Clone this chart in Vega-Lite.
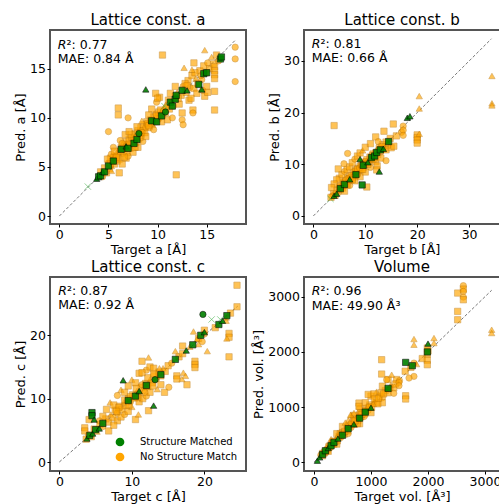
{
"$schema": "https://vega.github.io/schema/vega-lite/v6.json",
"background": "white",
"padding": {"left": 13, "top": 12, "right": 0, "bottom": 0},
"config": {
  "font": "DejaVu Sans",
  "view": {"stroke": "#555555", "strokeWidth": 2},
  "axis": {"domain": false, "grid": false, "ticks": true, "tickSize": 3, "tickColor": "#000000", "tickWidth": 1, "labelFontSize": 12.5, "labelColor": "#000000", "labelPadding": 1.5, "labelFlush": false, "labelOverlap": false, "titleFontSize": 13, "titleFontWeight": "normal", "titleColor": "#000000", "titlePadding": 2.5},
  "title": {"fontSize": 15, "fontWeight": "normal", "offset": 2, "color": "#000000"}
},
"datasets": {
"a": [
{"target":4.2,"pred":4.5,"match":"no","kind":"sq"},{"target":4.4,"pred":4.0,"match":"no","kind":"ci"},{"target":4.6,"pred":4.9,"match":"no","kind":"sq"},{"target":4.8,"pred":4.4,"match":"no","kind":"sq"},{"target":5.0,"pred":5.4,"match":"no","kind":"ci"},{"target":5.1,"pred":4.8,"match":"no","kind":"sq"},{"target":5.2,"pred":5.9,"match":"no","kind":"sq"},{"target":5.3,"pred":5.1,"match":"no","kind":"tr"},{"target":5.4,"pred":5.6,"match":"no","kind":"sq"},{"target":5.5,"pred":6.1,"match":"no","kind":"ci"},{"target":5.6,"pred":5.3,"match":"no","kind":"sq"},{"target":5.7,"pred":5.9,"match":"no","kind":"sq"},{"target":5.8,"pred":6.4,"match":"no","kind":"tr"},{"target":5.9,"pred":5.6,"match":"no","kind":"sq"},{"target":6.0,"pred":6.2,"match":"no","kind":"ci"},{"target":6.1,"pred":5.8,"match":"no","kind":"sq"},{"target":6.2,"pred":6.6,"match":"no","kind":"sq"},{"target":4.9,"pred":5.8,"match":"no","kind":"sq"},{"target":5.3,"pred":6.3,"match":"no","kind":"ci"},{"target":6.4,"pred":5.3,"match":"no","kind":"sq"},{"target":6.3,"pred":7.0,"match":"no","kind":"sq"},{"target":6.5,"pred":6.4,"match":"no","kind":"ci"},{"target":6.6,"pred":7.3,"match":"no","kind":"sq"},{"target":6.7,"pred":6.8,"match":"no","kind":"tr"},{"target":6.8,"pred":7.6,"match":"no","kind":"sq"},{"target":6.9,"pred":6.5,"match":"no","kind":"sq"},{"target":7.0,"pred":7.2,"match":"no","kind":"ci"},{"target":7.1,"pred":7.8,"match":"no","kind":"sq"},{"target":7.2,"pred":6.9,"match":"no","kind":"sq"},{"target":7.3,"pred":7.5,"match":"no","kind":"tr"},{"target":7.4,"pred":8.0,"match":"no","kind":"sq"},{"target":7.5,"pred":7.2,"match":"no","kind":"ci"},{"target":7.6,"pred":7.9,"match":"no","kind":"sq"},{"target":7.7,"pred":8.4,"match":"no","kind":"sq"},{"target":7.8,"pred":7.5,"match":"no","kind":"sq"},{"target":7.9,"pred":8.1,"match":"no","kind":"ci"},{"target":8.0,"pred":8.7,"match":"no","kind":"sq"},{"target":8.1,"pred":7.8,"match":"no","kind":"tr"},{"target":8.2,"pred":8.4,"match":"no","kind":"sq"},{"target":8.3,"pred":9.0,"match":"no","kind":"sq"},{"target":8.4,"pred":8.2,"match":"no","kind":"ci"},{"target":8.5,"pred":8.7,"match":"no","kind":"sq"},{"target":8.6,"pred":9.3,"match":"no","kind":"sq"},{"target":8.7,"pred":8.5,"match":"no","kind":"sq"},{"target":8.8,"pred":9.0,"match":"no","kind":"ci"},{"target":8.9,"pred":9.6,"match":"no","kind":"sq"},{"target":6.2,"pred":7.7,"match":"no","kind":"ci"},{"target":6.7,"pred":8.3,"match":"no","kind":"sq"},{"target":7.0,"pred":10.0,"match":"no","kind":"ci"},{"target":7.5,"pred":6.5,"match":"no","kind":"sq"},{"target":8.0,"pred":7.0,"match":"no","kind":"sq"},{"target":8.5,"pred":7.6,"match":"no","kind":"ci"},{"target":6.8,"pred":5.9,"match":"no","kind":"sq"},{"target":7.0,"pred":6.1,"match":"no","kind":"ci"},{"target":5.5,"pred":7.0,"match":"no","kind":"ci"},{"target":6.1,"pred":6.9,"match":"no","kind":"tr"},{"target":9.0,"pred":9.4,"match":"no","kind":"sq"},{"target":9.2,"pred":9.0,"match":"no","kind":"ci"},{"target":9.3,"pred":9.8,"match":"no","kind":"sq"},{"target":9.5,"pred":9.3,"match":"no","kind":"tr"},{"target":9.6,"pred":10.1,"match":"no","kind":"sq"},{"target":9.7,"pred":9.6,"match":"no","kind":"sq"},{"target":9.8,"pred":10.4,"match":"no","kind":"ci"},{"target":10.0,"pred":9.9,"match":"no","kind":"sq"},{"target":10.1,"pred":10.6,"match":"no","kind":"sq"},{"target":10.2,"pred":10.0,"match":"no","kind":"ci"},{"target":10.3,"pred":10.8,"match":"no","kind":"sq"},{"target":10.5,"pred":10.3,"match":"no","kind":"sq"},{"target":10.6,"pred":11.0,"match":"no","kind":"tr"},{"target":10.8,"pred":10.5,"match":"no","kind":"sq"},{"target":11.0,"pred":11.3,"match":"no","kind":"ci"},{"target":11.2,"pred":10.9,"match":"no","kind":"sq"},{"target":11.4,"pred":11.6,"match":"no","kind":"sq"},{"target":11.6,"pred":11.2,"match":"no","kind":"ci"},{"target":11.8,"pred":12.2,"match":"no","kind":"sq"},{"target":9.4,"pred":10.9,"match":"no","kind":"sq"},{"target":9.9,"pred":11.6,"match":"no","kind":"ci"},{"target":10.2,"pred":12.1,"match":"no","kind":"sq"},{"target":11.0,"pred":9.8,"match":"no","kind":"sq"},{"target":11.5,"pred":10.0,"match":"no","kind":"ci"},{"target":12.2,"pred":11.4,"match":"no","kind":"sq"},{"target":12.0,"pred":12.6,"match":"no","kind":"tr"},{"target":12.4,"pred":12.3,"match":"no","kind":"sq"},{"target":12.6,"pred":13.2,"match":"no","kind":"ci"},{"target":12.9,"pred":12.6,"match":"no","kind":"sq"},{"target":13.1,"pred":13.8,"match":"no","kind":"sq"},{"target":13.3,"pred":13.1,"match":"no","kind":"ci"},{"target":13.5,"pred":14.3,"match":"no","kind":"sq"},{"target":13.7,"pred":13.0,"match":"no","kind":"sq"},{"target":13.9,"pred":14.0,"match":"no","kind":"tr"},{"target":14.1,"pred":13.5,"match":"no","kind":"sq"},{"target":14.3,"pred":14.8,"match":"no","kind":"sq"},{"target":14.5,"pred":13.9,"match":"no","kind":"ci"},{"target":14.7,"pred":15.3,"match":"no","kind":"sq"},{"target":14.9,"pred":14.6,"match":"no","kind":"sq"},{"target":15.1,"pred":15.6,"match":"no","kind":"ci"},{"target":15.3,"pred":15.0,"match":"no","kind":"sq"},{"target":15.5,"pred":16.2,"match":"no","kind":"tr"},{"target":15.7,"pred":15.5,"match":"no","kind":"sq"},{"target":16.0,"pred":16.4,"match":"no","kind":"sq"},{"target":16.2,"pred":15.8,"match":"no","kind":"ci"},{"target":14.0,"pred":12.5,"match":"no","kind":"sq"},{"target":14.6,"pred":12.8,"match":"no","kind":"ci"},{"target":13.2,"pred":11.8,"match":"no","kind":"sq"},{"target":15.0,"pred":13.2,"match":"no","kind":"sq"},{"target":14.8,"pred":12.2,"match":"no","kind":"sq"},
{"target":5.6,"pred":6.6,"match":"no","kind":"sq"},{"target":6.4,"pred":7.4,"match":"no","kind":"ci"},{"target":7.3,"pred":8.3,"match":"no","kind":"sq"},{"target":7.9,"pred":9.1,"match":"no","kind":"sq"},{"target":8.4,"pred":9.7,"match":"no","kind":"tr"},{"target":9.1,"pred":10.3,"match":"no","kind":"sq"},{"target":8.8,"pred":8.1,"match":"no","kind":"sq"},{"target":9.6,"pred":8.8,"match":"no","kind":"ci"},{"target":10.4,"pred":9.6,"match":"no","kind":"sq"},{"target":6.6,"pred":6.0,"match":"no","kind":"sq"},{"target":7.7,"pred":7.0,"match":"no","kind":"sq"},{"target":5.2,"pred":5.3,"match":"no","kind":"sq"},{"target":6.9,"pred":7.1,"match":"no","kind":"sq"},{"target":8.2,"pred":8.0,"match":"no","kind":"sq"},{"target":9.4,"pred":9.5,"match":"no","kind":"sq"},{"target":10.6,"pred":10.7,"match":"no","kind":"ci"},{"target":11.1,"pred":11.8,"match":"no","kind":"sq"},{"target":12.8,"pred":13.5,"match":"no","kind":"sq"},{"target":13.8,"pred":14.6,"match":"no","kind":"sq"},
{"target":7.1,"pred":7.3,"match":"no","kind":"sq"},{"target":7.8,"pred":8.0,"match":"no","kind":"ci"},{"target":8.3,"pred":8.5,"match":"no","kind":"sq"},{"target":9.1,"pred":9.2,"match":"no","kind":"sq"},{"target":9.9,"pred":10.2,"match":"no","kind":"sq"},{"target":10.9,"pred":11.1,"match":"no","kind":"ci"},{"target":12.1,"pred":12.0,"match":"no","kind":"sq"},{"target":13.0,"pred":13.3,"match":"no","kind":"sq"},{"target":14.4,"pred":14.3,"match":"no","kind":"ci"},{"target":5.8,"pred":6.0,"match":"no","kind":"sq"},{"target":6.5,"pred":6.9,"match":"no","kind":"sq"},
{"target":11.9,"pred":4.2,"match":"no","kind":"sq"},{"target":10.5,"pred":16.4,"match":"no","kind":"sq"},{"target":13.7,"pred":15.6,"match":"no","kind":"sq"},{"target":17.9,"pred":17.2,"match":"no","kind":"ci"},{"target":17.9,"pred":16.0,"match":"no","kind":"ci"},{"target":17.9,"pred":13.7,"match":"no","kind":"ci"},{"target":15.8,"pred":15.2,"match":"no","kind":"sq"},{"target":15.8,"pred":14.8,"match":"no","kind":"sq"},{"target":15.8,"pred":14.4,"match":"no","kind":"sq"},{"target":15.8,"pred":14.0,"match":"no","kind":"sq"},{"target":15.8,"pred":12.7,"match":"no","kind":"sq"},{"target":15.8,"pred":10.8,"match":"no","kind":"sq"},{"target":13.6,"pred":10.8,"match":"no","kind":"sq"},{"target":13.6,"pred":10.5,"match":"no","kind":"ci"},{"target":12.5,"pred":10.5,"match":"no","kind":"sq"},{"target":12.5,"pred":9.8,"match":"no","kind":"ci"},{"target":12.6,"pred":9.3,"match":"no","kind":"ci"},{"target":6.0,"pred":11.0,"match":"no","kind":"sq"},{"target":6.0,"pred":10.3,"match":"no","kind":"sq"},{"target":5.0,"pred":8.6,"match":"no","kind":"ci"},{"target":7.1,"pred":8.6,"match":"no","kind":"sq"},{"target":9.8,"pred":12.5,"match":"no","kind":"sq"},{"target":6.1,"pred":4.4,"match":"no","kind":"sq"},{"target":5.3,"pred":4.6,"match":"no","kind":"tr"},{"target":14.8,"pred":16.9,"match":"no","kind":"tr"},{"target":13.5,"pred":14.9,"match":"no","kind":"tr"},{"target":12.7,"pred":15.1,"match":"no","kind":"tr"},{"target":11.3,"pred":12.5,"match":"no","kind":"sq"},{"target":11.8,"pred":13.2,"match":"no","kind":"sq"},{"target":10.0,"pred":12.0,"match":"no","kind":"sq"},{"target":13.4,"pred":12.0,"match":"no","kind":"sq"},{"target":15.1,"pred":12.6,"match":"no","kind":"sq"},
{"target":3.8,"pred":3.8,"match":"yes","kind":"tr"},{"target":4.0,"pred":4.0,"match":"yes","kind":"sq"},{"target":4.2,"pred":4.1,"match":"yes","kind":"sq"},{"target":4.4,"pred":4.5,"match":"yes","kind":"tr"},{"target":4.6,"pred":4.5,"match":"yes","kind":"sq"},{"target":5.0,"pred":5.1,"match":"yes","kind":"sq"},{"target":5.5,"pred":5.6,"match":"yes","kind":"sq"},{"target":6.3,"pred":6.8,"match":"yes","kind":"sq"},{"target":6.8,"pred":7.1,"match":"yes","kind":"tr"},{"target":7.0,"pred":6.9,"match":"yes","kind":"sq"},{"target":7.6,"pred":7.4,"match":"yes","kind":"sq"},{"target":7.9,"pred":7.8,"match":"yes","kind":"sq"},{"target":8.1,"pred":8.4,"match":"yes","kind":"ci"},{"target":8.8,"pred":12.9,"match":"yes","kind":"tr"},{"target":9.4,"pred":9.7,"match":"yes","kind":"sq"},{"target":9.9,"pred":9.6,"match":"yes","kind":"sq"},{"target":10.4,"pred":10.2,"match":"yes","kind":"sq"},{"target":10.8,"pred":10.6,"match":"yes","kind":"ci"},{"target":11.3,"pred":11.6,"match":"yes","kind":"sq"},{"target":11.5,"pred":11.2,"match":"yes","kind":"sq"},{"target":11.8,"pred":11.9,"match":"yes","kind":"sq"},{"target":11.9,"pred":12.3,"match":"yes","kind":"sq"},{"target":12.5,"pred":12.8,"match":"yes","kind":"sq"},{"target":13.0,"pred":12.8,"match":"yes","kind":"tr"},{"target":14.2,"pred":13.4,"match":"yes","kind":"sq"},{"target":14.5,"pred":12.9,"match":"yes","kind":"tr"},{"target":14.7,"pred":14.5,"match":"yes","kind":"sq"},{"target":15.0,"pred":14.6,"match":"yes","kind":"sq"},{"target":16.4,"pred":16.0,"match":"yes","kind":"sq"},{"target":16.5,"pred":16.2,"match":"yes","kind":"sq"},{"target":2.9,"pred":3.0,"match":"yes","kind":"x"},{"target":10.7,"pred":11.2,"match":"yes","kind":"x"}
],
"b": [
{"target":3.6,"pred":3.8,"match":"no","kind":"ci"},{"target":3.9,"pred":4.3,"match":"no","kind":"sq"},{"target":4.2,"pred":4.0,"match":"no","kind":"sq"},{"target":4.5,"pred":5.0,"match":"no","kind":"sq"},{"target":4.8,"pred":4.5,"match":"no","kind":"ci"},{"target":5.0,"pred":5.6,"match":"no","kind":"sq"},{"target":5.2,"pred":5.1,"match":"no","kind":"sq"},{"target":5.4,"pred":6.1,"match":"no","kind":"tr"},{"target":5.6,"pred":5.4,"match":"no","kind":"sq"},{"target":5.8,"pred":6.5,"match":"no","kind":"sq"},{"target":6.0,"pred":5.9,"match":"no","kind":"ci"},{"target":6.2,"pred":6.8,"match":"no","kind":"sq"},{"target":6.4,"pred":6.2,"match":"no","kind":"sq"},{"target":6.6,"pred":7.3,"match":"no","kind":"sq"},{"target":6.8,"pred":6.7,"match":"no","kind":"ci"},{"target":7.0,"pred":7.6,"match":"no","kind":"sq"},{"target":7.2,"pred":7.0,"match":"no","kind":"sq"},{"target":7.4,"pred":8.1,"match":"no","kind":"tr"},{"target":7.6,"pred":7.4,"match":"no","kind":"sq"},{"target":7.8,"pred":8.4,"match":"no","kind":"sq"},{"target":8.0,"pred":7.8,"match":"no","kind":"ci"},{"target":8.2,"pred":8.9,"match":"no","kind":"sq"},{"target":8.4,"pred":8.3,"match":"no","kind":"sq"},{"target":8.6,"pred":9.2,"match":"no","kind":"sq"},{"target":8.8,"pred":8.6,"match":"no","kind":"ci"},{"target":9.0,"pred":9.6,"match":"no","kind":"sq"},{"target":9.2,"pred":9.0,"match":"no","kind":"sq"},{"target":9.4,"pred":10.1,"match":"no","kind":"tr"},{"target":9.6,"pred":9.4,"match":"no","kind":"sq"},{"target":9.8,"pred":10.4,"match":"no","kind":"sq"},{"target":10.0,"pred":9.8,"match":"no","kind":"ci"},{"target":10.3,"pred":10.9,"match":"no","kind":"sq"},{"target":10.6,"pred":10.3,"match":"no","kind":"sq"},{"target":10.9,"pred":11.4,"match":"no","kind":"sq"},{"target":11.2,"pred":10.8,"match":"no","kind":"ci"},{"target":11.5,"pred":12.0,"match":"no","kind":"sq"},{"target":11.8,"pred":11.3,"match":"no","kind":"sq"},{"target":12.1,"pred":12.6,"match":"no","kind":"tr"},{"target":12.4,"pred":11.9,"match":"no","kind":"sq"},{"target":12.7,"pred":13.2,"match":"no","kind":"sq"},{"target":13.0,"pred":12.4,"match":"no","kind":"ci"},{"target":13.3,"pred":13.8,"match":"no","kind":"sq"},{"target":13.6,"pred":13.0,"match":"no","kind":"sq"},{"target":14.0,"pred":14.3,"match":"no","kind":"sq"},{"target":14.4,"pred":13.6,"match":"no","kind":"ci"},{"target":14.8,"pred":15.0,"match":"no","kind":"sq"},{"target":5.0,"pred":7.3,"match":"no","kind":"sq"},{"target":5.5,"pred":8.0,"match":"no","kind":"sq"},{"target":6.0,"pred":8.6,"match":"no","kind":"ci"},{"target":6.5,"pred":9.0,"match":"no","kind":"sq"},{"target":7.0,"pred":9.5,"match":"no","kind":"sq"},{"target":7.5,"pred":10.3,"match":"no","kind":"sq"},{"target":8.0,"pred":11.0,"match":"no","kind":"ci"},{"target":8.5,"pred":11.6,"match":"no","kind":"sq"},{"target":9.0,"pred":12.2,"match":"no","kind":"sq"},{"target":9.5,"pred":12.7,"match":"no","kind":"tr"},{"target":10.0,"pred":13.3,"match":"no","kind":"sq"},{"target":11.0,"pred":14.0,"match":"no","kind":"sq"},{"target":12.0,"pred":15.3,"match":"no","kind":"sq"},{"target":12.5,"pred":14.4,"match":"no","kind":"ci"},{"target":4.5,"pred":7.0,"match":"no","kind":"sq"},{"target":4.0,"pred":6.2,"match":"no","kind":"sq"},{"target":6.0,"pred":4.8,"match":"no","kind":"sq"},{"target":7.0,"pred":5.9,"match":"no","kind":"ci"},{"target":8.0,"pred":6.8,"match":"no","kind":"sq"},{"target":9.0,"pred":7.6,"match":"no","kind":"sq"},{"target":10.0,"pred":8.5,"match":"no","kind":"sq"},{"target":11.0,"pred":9.4,"match":"no","kind":"ci"},{"target":12.0,"pred":10.5,"match":"no","kind":"sq"},{"target":13.0,"pred":11.2,"match":"no","kind":"sq"},{"target":14.0,"pred":12.8,"match":"no","kind":"sq"},{"target":15.0,"pred":13.2,"match":"no","kind":"sq"},{"target":16.0,"pred":15.5,"match":"no","kind":"sq"},{"target":17.0,"pred":16.2,"match":"no","kind":"ci"},{"target":3.4,"pred":3.6,"match":"no","kind":"sq"},
{"target":5.3,"pred":5.8,"match":"no","kind":"sq"},{"target":5.9,"pred":6.3,"match":"no","kind":"sq"},{"target":6.3,"pred":7.0,"match":"no","kind":"ci"},{"target":6.9,"pred":7.2,"match":"no","kind":"sq"},{"target":7.3,"pred":7.8,"match":"no","kind":"sq"},{"target":7.7,"pred":8.0,"match":"no","kind":"tr"},{"target":8.1,"pred":8.6,"match":"no","kind":"sq"},{"target":8.5,"pred":9.0,"match":"no","kind":"sq"},{"target":8.9,"pred":9.3,"match":"no","kind":"ci"},{"target":9.3,"pred":9.9,"match":"no","kind":"sq"},{"target":9.7,"pred":10.2,"match":"no","kind":"sq"},{"target":10.2,"pred":10.5,"match":"no","kind":"sq"},{"target":10.8,"pred":11.0,"match":"no","kind":"tr"},{"target":11.4,"pred":11.7,"match":"no","kind":"sq"},{"target":12.0,"pred":12.2,"match":"no","kind":"sq"},{"target":12.6,"pred":12.9,"match":"no","kind":"ci"},{"target":13.2,"pred":13.4,"match":"no","kind":"sq"},{"target":6.5,"pred":6.0,"match":"no","kind":"sq"},{"target":7.5,"pred":7.0,"match":"no","kind":"sq"},{"target":8.5,"pred":8.0,"match":"no","kind":"ci"},{"target":9.5,"pred":9.0,"match":"no","kind":"sq"},{"target":10.5,"pred":10.0,"match":"no","kind":"sq"},{"target":11.5,"pred":11.0,"match":"no","kind":"sq"},
{"target":34.4,"pred":27.1,"match":"no","kind":"tr"},{"target":34.4,"pred":21.8,"match":"no","kind":"tr"},{"target":34.4,"pred":21.4,"match":"no","kind":"tr"},{"target":20.4,"pred":23.2,"match":"no","kind":"tr"},{"target":20.4,"pred":20.8,"match":"no","kind":"tr"},{"target":20.0,"pred":15.7,"match":"no","kind":"sq"},{"target":20.0,"pred":15.2,"match":"no","kind":"sq"},{"target":20.0,"pred":14.7,"match":"no","kind":"sq"},{"target":20.0,"pred":14.1,"match":"no","kind":"sq"},{"target":20.4,"pred":15.9,"match":"no","kind":"tr"},{"target":4.0,"pred":17.5,"match":"no","kind":"sq"},{"target":15.4,"pred":17.8,"match":"no","kind":"sq"},{"target":13.6,"pred":16.4,"match":"no","kind":"sq"},{"target":17.3,"pred":17.4,"match":"no","kind":"ci"},{"target":17.3,"pred":16.6,"match":"no","kind":"ci"},{"target":17.3,"pred":15.6,"match":"no","kind":"ci"},{"target":3.5,"pred":5.5,"match":"no","kind":"sq"},{"target":10.3,"pred":5.6,"match":"no","kind":"sq"},{"target":6.6,"pred":12.1,"match":"no","kind":"ci"},{"target":4.8,"pred":9.1,"match":"no","kind":"sq"},{"target":5.9,"pred":10.1,"match":"no","kind":"ci"},{"target":12.3,"pred":9.7,"match":"no","kind":"sq"},{"target":12.2,"pred":8.9,"match":"no","kind":"sq"},{"target":14.0,"pred":10.7,"match":"no","kind":"ci"},{"target":15.5,"pred":13.5,"match":"no","kind":"sq"},
{"target":3.3,"pred":3.3,"match":"yes","kind":"x"},{"target":4.0,"pred":3.9,"match":"yes","kind":"tr"},{"target":4.5,"pred":4.3,"match":"yes","kind":"tr"},{"target":5.2,"pred":5.3,"match":"yes","kind":"sq"},{"target":6.0,"pred":6.1,"match":"yes","kind":"sq"},{"target":7.0,"pred":7.1,"match":"yes","kind":"tr"},{"target":8.2,"pred":8.0,"match":"yes","kind":"sq"},{"target":9.0,"pred":11.0,"match":"yes","kind":"tr"},{"target":9.4,"pred":6.0,"match":"yes","kind":"sq"},{"target":9.6,"pred":9.8,"match":"yes","kind":"sq"},{"target":10.5,"pred":10.4,"match":"yes","kind":"tr"},{"target":11.2,"pred":11.3,"match":"yes","kind":"sq"},{"target":11.8,"pred":11.6,"match":"yes","kind":"sq"},{"target":12.2,"pred":12.3,"match":"yes","kind":"sq"},{"target":12.7,"pred":8.6,"match":"yes","kind":"tr"},{"target":12.9,"pred":12.8,"match":"yes","kind":"sq"},{"target":13.5,"pred":13.0,"match":"yes","kind":"tr"},{"target":14.5,"pred":14.4,"match":"yes","kind":"sq"},{"target":18.1,"pred":19.0,"match":"yes","kind":"tr"},{"target":18.6,"pred":19.3,"match":"yes","kind":"tr"}
],
"c": [
{"target":3.7,"pred":3.6,"match":"no","kind":"sq"},{"target":4.0,"pred":4.3,"match":"no","kind":"ci"},{"target":4.4,"pred":4.0,"match":"no","kind":"sq"},{"target":4.8,"pred":5.2,"match":"no","kind":"sq"},{"target":5.2,"pred":4.8,"match":"no","kind":"tr"},{"target":5.6,"pred":5.9,"match":"no","kind":"sq"},{"target":6.0,"pred":5.6,"match":"no","kind":"ci"},{"target":6.4,"pred":6.8,"match":"no","kind":"sq"},{"target":6.8,"pred":6.3,"match":"no","kind":"sq"},{"target":7.1,"pred":7.5,"match":"no","kind":"tr"},{"target":7.4,"pred":7.0,"match":"no","kind":"sq"},{"target":7.7,"pred":8.2,"match":"no","kind":"sq"},{"target":8.0,"pred":7.7,"match":"no","kind":"ci"},{"target":8.3,"pred":8.8,"match":"no","kind":"sq"},{"target":8.6,"pred":8.3,"match":"no","kind":"sq"},{"target":8.9,"pred":9.4,"match":"no","kind":"tr"},{"target":9.2,"pred":8.9,"match":"no","kind":"sq"},{"target":9.5,"pred":10.0,"match":"no","kind":"sq"},{"target":9.8,"pred":9.5,"match":"no","kind":"ci"},{"target":10.1,"pred":10.6,"match":"no","kind":"sq"},{"target":10.4,"pred":10.1,"match":"no","kind":"sq"},{"target":10.7,"pred":11.2,"match":"no","kind":"tr"},{"target":11.0,"pred":10.7,"match":"no","kind":"sq"},{"target":11.3,"pred":11.8,"match":"no","kind":"sq"},{"target":11.6,"pred":11.3,"match":"no","kind":"ci"},{"target":11.9,"pred":12.4,"match":"no","kind":"sq"},{"target":12.2,"pred":11.9,"match":"no","kind":"sq"},{"target":12.5,"pred":13.0,"match":"no","kind":"tr"},{"target":12.8,"pred":12.5,"match":"no","kind":"sq"},{"target":13.1,"pred":13.6,"match":"no","kind":"sq"},{"target":13.4,"pred":13.1,"match":"no","kind":"ci"},{"target":13.7,"pred":14.2,"match":"no","kind":"sq"},{"target":14.0,"pred":13.6,"match":"no","kind":"sq"},{"target":14.3,"pred":14.8,"match":"no","kind":"tr"},{"target":14.6,"pred":14.3,"match":"no","kind":"sq"},{"target":15.0,"pred":15.2,"match":"no","kind":"sq"},{"target":15.5,"pred":15.6,"match":"no","kind":"ci"},{"target":16.5,"pred":16.6,"match":"no","kind":"sq"},{"target":17.0,"pred":17.1,"match":"no","kind":"sq"},{"target":18.0,"pred":18.2,"match":"no","kind":"tr"},{"target":19.2,"pred":19.5,"match":"no","kind":"sq"},{"target":20.0,"pred":20.2,"match":"no","kind":"ci"},{"target":21.5,"pred":21.2,"match":"no","kind":"sq"},{"target":23.0,"pred":22.8,"match":"no","kind":"tr"},{"target":23.6,"pred":23.5,"match":"no","kind":"sq"},{"target":6.5,"pred":8.3,"match":"no","kind":"sq"},{"target":7.0,"pred":9.4,"match":"no","kind":"tr"},{"target":7.5,"pred":9.0,"match":"no","kind":"sq"},{"target":8.0,"pred":10.5,"match":"no","kind":"ci"},{"target":8.5,"pred":11.4,"match":"no","kind":"tr"},{"target":9.0,"pred":11.0,"match":"no","kind":"sq"},{"target":9.5,"pred":12.0,"match":"no","kind":"sq"},{"target":10.0,"pred":13.0,"match":"no","kind":"tr"},{"target":10.5,"pred":12.5,"match":"no","kind":"sq"},{"target":11.0,"pred":14.0,"match":"no","kind":"sq"},{"target":12.0,"pred":14.5,"match":"no","kind":"ci"},{"target":12.5,"pred":15.0,"match":"no","kind":"sq"},{"target":13.0,"pred":14.8,"match":"no","kind":"sq"},{"target":8.0,"pred":6.5,"match":"no","kind":"sq"},{"target":8.5,"pred":7.1,"match":"no","kind":"sq"},{"target":9.0,"pred":7.5,"match":"no","kind":"ci"},{"target":9.5,"pred":8.0,"match":"no","kind":"sq"},{"target":10.0,"pred":8.7,"match":"no","kind":"tr"},{"target":10.5,"pred":6.7,"match":"no","kind":"sq"},{"target":10.9,"pred":7.5,"match":"no","kind":"tr"},{"target":11.0,"pred":9.5,"match":"no","kind":"sq"},{"target":11.5,"pred":10.0,"match":"no","kind":"sq"},{"target":12.0,"pred":10.4,"match":"no","kind":"ci"},{"target":12.5,"pred":11.0,"match":"no","kind":"sq"},{"target":13.5,"pred":11.5,"match":"no","kind":"tr"},{"target":14.0,"pred":12.2,"match":"no","kind":"sq"},{"target":14.5,"pred":11.0,"match":"no","kind":"sq"},{"target":15.1,"pred":11.8,"match":"no","kind":"ci"},{"target":6.0,"pred":7.2,"match":"no","kind":"sq"},{"target":5.5,"pred":6.5,"match":"no","kind":"ci"},{"target":6.8,"pred":4.9,"match":"no","kind":"sq"},{"target":7.5,"pred":5.8,"match":"no","kind":"sq"},{"target":4.1,"pred":6.7,"match":"no","kind":"sq"},{"target":3.5,"pred":5.4,"match":"no","kind":"sq"},{"target":3.5,"pred":4.9,"match":"no","kind":"sq"},
{"target":8.2,"pred":8.6,"match":"no","kind":"sq"},{"target":9.0,"pred":9.8,"match":"no","kind":"sq"},{"target":9.8,"pred":10.3,"match":"no","kind":"sq"},{"target":10.6,"pred":11.6,"match":"no","kind":"sq"},{"target":11.4,"pred":12.2,"match":"no","kind":"ci"},{"target":12.2,"pred":13.3,"match":"no","kind":"sq"},{"target":13.0,"pred":13.9,"match":"no","kind":"sq"},{"target":13.8,"pred":14.8,"match":"no","kind":"tr"},{"target":9.6,"pred":9.0,"match":"no","kind":"sq"},{"target":10.8,"pred":10.2,"match":"no","kind":"sq"},{"target":11.8,"pred":11.0,"match":"no","kind":"ci"},{"target":12.9,"pred":12.0,"match":"no","kind":"sq"},{"target":7.9,"pred":8.0,"match":"no","kind":"sq"},{"target":12.0,"pred":12.0,"match":"no","kind":"sq"},
{"target":24.5,"pred":27.9,"match":"no","kind":"sq"},{"target":24.5,"pred":24.5,"match":"no","kind":"sq"},{"target":23.4,"pred":20.3,"match":"no","kind":"sq"},{"target":23.4,"pred":19.7,"match":"no","kind":"sq"},{"target":23.1,"pred":19.5,"match":"no","kind":"tr"},{"target":23.4,"pred":16.6,"match":"no","kind":"sq"},{"target":23.0,"pred":22.3,"match":"no","kind":"tr"},{"target":19.0,"pred":19.4,"match":"no","kind":"tr"},{"target":19.2,"pred":18.6,"match":"no","kind":"tr"},{"target":20.4,"pred":17.5,"match":"no","kind":"tr"},{"target":18.7,"pred":15.9,"match":"no","kind":"sq"},{"target":18.7,"pred":15.4,"match":"no","kind":"sq"},{"target":18.7,"pred":14.9,"match":"no","kind":"sq"},{"target":17.6,"pred":12.2,"match":"no","kind":"sq"},{"target":17.1,"pred":14.1,"match":"no","kind":"tr"},{"target":17.4,"pred":13.6,"match":"no","kind":"tr"},{"target":16.9,"pred":13.1,"match":"no","kind":"tr"},{"target":16.2,"pred":13.6,"match":"no","kind":"sq"},{"target":16.2,"pred":13.1,"match":"no","kind":"sq"},{"target":12.3,"pred":16.5,"match":"no","kind":"tr"},{"target":11.4,"pred":15.9,"match":"no","kind":"sq"},{"target":11.4,"pred":14.1,"match":"no","kind":"sq"},{"target":12.3,"pred":8.1,"match":"no","kind":"sq"},{"target":16.0,"pred":17.5,"match":"no","kind":"tr"},{"target":18.5,"pred":20.6,"match":"no","kind":"tr"},{"target":17.0,"pred":18.3,"match":"no","kind":"sq"},{"target":19.7,"pred":19.0,"match":"no","kind":"ci"},{"target":20.0,"pred":20.8,"match":"no","kind":"sq"},
{"target":3.8,"pred":3.7,"match":"yes","kind":"tr"},{"target":4.2,"pred":4.2,"match":"yes","kind":"sq"},{"target":4.6,"pred":4.5,"match":"yes","kind":"tr"},{"target":5.0,"pred":5.1,"match":"yes","kind":"sq"},{"target":5.5,"pred":5.3,"match":"yes","kind":"tr"},{"target":6.0,"pred":6.1,"match":"yes","kind":"sq"},{"target":4.5,"pred":7.8,"match":"yes","kind":"sq"},{"target":4.5,"pred":7.3,"match":"yes","kind":"sq"},{"target":4.8,"pred":6.7,"match":"yes","kind":"tr"},{"target":8.8,"pred":12.9,"match":"yes","kind":"tr"},{"target":9.5,"pred":9.7,"match":"yes","kind":"sq"},{"target":10.5,"pred":10.4,"match":"yes","kind":"sq"},{"target":11.0,"pred":11.2,"match":"yes","kind":"tr"},{"target":12.0,"pred":12.1,"match":"yes","kind":"sq"},{"target":13.0,"pred":8.9,"match":"yes","kind":"tr"},{"target":13.2,"pred":13.0,"match":"yes","kind":"ci"},{"target":14.0,"pred":13.8,"match":"yes","kind":"sq"},{"target":16.0,"pred":16.2,"match":"yes","kind":"sq"},{"target":17.5,"pred":17.6,"match":"yes","kind":"tr"},{"target":18.4,"pred":18.5,"match":"yes","kind":"sq"},{"target":19.5,"pred":20.0,"match":"yes","kind":"sq"},{"target":19.8,"pred":23.3,"match":"yes","kind":"ci"},{"target":20.0,"pred":20.5,"match":"yes","kind":"tr"},{"target":21.0,"pred":22.5,"match":"yes","kind":"x"},{"target":22.2,"pred":22.5,"match":"yes","kind":"x"},{"target":22.0,"pred":21.7,"match":"yes","kind":"sq"},{"target":22.5,"pred":22.3,"match":"yes","kind":"tr"},{"target":23.1,"pred":23.1,"match":"yes","kind":"sq"}
],
"v": [
{"target":120,"pred":130,"match":"no","kind":"ci"},{"target":150,"pred":160,"match":"no","kind":"sq"},{"target":180,"pred":170,"match":"no","kind":"sq"},{"target":200,"pred":230,"match":"no","kind":"tr"},{"target":230,"pred":220,"match":"no","kind":"sq"},{"target":260,"pred":280,"match":"no","kind":"sq"},{"target":290,"pred":270,"match":"no","kind":"ci"},{"target":320,"pred":350,"match":"no","kind":"sq"},{"target":350,"pred":330,"match":"no","kind":"sq"},{"target":380,"pred":400,"match":"no","kind":"tr"},{"target":410,"pred":390,"match":"no","kind":"sq"},{"target":440,"pred":470,"match":"no","kind":"sq"},{"target":470,"pred":450,"match":"no","kind":"ci"},{"target":500,"pred":540,"match":"no","kind":"sq"},{"target":530,"pred":510,"match":"no","kind":"sq"},{"target":560,"pred":600,"match":"no","kind":"tr"},{"target":590,"pred":570,"match":"no","kind":"sq"},{"target":620,"pred":670,"match":"no","kind":"sq"},{"target":650,"pred":630,"match":"no","kind":"ci"},{"target":680,"pred":720,"match":"no","kind":"sq"},{"target":710,"pred":690,"match":"no","kind":"sq"},{"target":740,"pred":800,"match":"no","kind":"tr"},{"target":770,"pred":760,"match":"no","kind":"sq"},{"target":800,"pred":860,"match":"no","kind":"sq"},{"target":830,"pred":810,"match":"no","kind":"ci"},{"target":860,"pred":900,"match":"no","kind":"sq"},{"target":890,"pred":880,"match":"no","kind":"sq"},{"target":920,"pred":980,"match":"no","kind":"sq"},{"target":950,"pred":940,"match":"no","kind":"ci"},{"target":980,"pred":1040,"match":"no","kind":"sq"},{"target":1010,"pred":1000,"match":"no","kind":"sq"},{"target":1050,"pred":1100,"match":"no","kind":"tr"},{"target":1100,"pred":1080,"match":"no","kind":"sq"},{"target":1150,"pred":1200,"match":"no","kind":"sq"},{"target":1200,"pred":1170,"match":"no","kind":"ci"},{"target":1250,"pred":1300,"match":"no","kind":"sq"},{"target":1300,"pred":1260,"match":"no","kind":"sq"},{"target":1350,"pred":1400,"match":"no","kind":"tr"},{"target":1400,"pred":1350,"match":"no","kind":"sq"},{"target":1450,"pred":1500,"match":"no","kind":"sq"},{"target":1500,"pred":1480,"match":"no","kind":"ci"},{"target":1600,"pred":1650,"match":"no","kind":"sq"},{"target":1700,"pred":1720,"match":"no","kind":"sq"},{"target":1800,"pred":1780,"match":"no","kind":"tr"},{"target":1900,"pred":1880,"match":"no","kind":"sq"},{"target":2000,"pred":2020,"match":"no","kind":"sq"},{"target":300,"pred":420,"match":"no","kind":"tr"},{"target":400,"pred":520,"match":"no","kind":"sq"},{"target":500,"pred":650,"match":"no","kind":"sq"},{"target":600,"pred":760,"match":"no","kind":"tr"},{"target":700,"pred":850,"match":"no","kind":"sq"},{"target":800,"pred":980,"match":"no","kind":"ci"},{"target":900,"pred":1080,"match":"no","kind":"sq"},{"target":1000,"pred":1200,"match":"no","kind":"sq"},{"target":1100,"pred":1280,"match":"no","kind":"tr"},{"target":1200,"pred":1380,"match":"no","kind":"sq"},{"target":1300,"pred":1500,"match":"no","kind":"sq"},{"target":400,"pred":330,"match":"no","kind":"sq"},{"target":600,"pred":520,"match":"no","kind":"ci"},{"target":800,"pred":700,"match":"no","kind":"sq"},{"target":1000,"pred":900,"match":"no","kind":"sq"},{"target":1200,"pred":1080,"match":"no","kind":"sq"},{"target":1400,"pred":1250,"match":"no","kind":"ci"},{"target":250,"pred":200,"match":"no","kind":"sq"},{"target":150,"pred":120,"match":"no","kind":"sq"},{"target":950,"pred":1230,"match":"no","kind":"sq"},{"target":1050,"pred":1240,"match":"no","kind":"sq"},{"target":550,"pred":720,"match":"no","kind":"tr"},{"target":650,"pred":850,"match":"no","kind":"tr"},
{"target":340,"pred":380,"match":"no","kind":"sq"},{"target":460,"pred":520,"match":"no","kind":"sq"},{"target":580,"pred":640,"match":"no","kind":"ci"},{"target":700,"pred":770,"match":"no","kind":"sq"},{"target":820,"pred":900,"match":"no","kind":"sq"},{"target":940,"pred":1010,"match":"no","kind":"tr"},{"target":1060,"pred":1150,"match":"no","kind":"sq"},{"target":1180,"pred":1260,"match":"no","kind":"sq"},{"target":760,"pred":700,"match":"no","kind":"sq"},{"target":880,"pred":830,"match":"no","kind":"ci"},{"target":1120,"pred":1060,"match":"no","kind":"sq"},
{"target":200,"pred":190,"match":"no","kind":"sq"},{"target":240,"pred":250,"match":"no","kind":"ci"},{"target":280,"pred":300,"match":"no","kind":"sq"},{"target":330,"pred":340,"match":"no","kind":"sq"},{"target":370,"pred":380,"match":"no","kind":"sq"},{"target":430,"pred":450,"match":"no","kind":"ci"},{"target":480,"pred":500,"match":"no","kind":"sq"},{"target":540,"pred":560,"match":"no","kind":"sq"},{"target":610,"pred":640,"match":"no","kind":"tr"},{"target":660,"pred":690,"match":"no","kind":"sq"},{"target":720,"pred":750,"match":"no","kind":"sq"},{"target":780,"pred":820,"match":"no","kind":"ci"},{"target":840,"pred":870,"match":"no","kind":"sq"},{"target":900,"pred":940,"match":"no","kind":"sq"},{"target":970,"pred":1000,"match":"no","kind":"sq"},{"target":1040,"pred":1060,"match":"no","kind":"tr"},{"target":1130,"pred":1160,"match":"no","kind":"sq"},{"target":1220,"pred":1240,"match":"no","kind":"sq"},{"target":1330,"pred":1330,"match":"no","kind":"ci"},{"target":1430,"pred":1420,"match":"no","kind":"sq"},
{"target":2620,"pred":3200,"match":"no","kind":"ci"},{"target":2620,"pred":3138,"match":"no","kind":"sq"},{"target":2620,"pred":3096,"match":"no","kind":"ci"},{"target":2620,"pred":2993,"match":"no","kind":"ci"},{"target":2620,"pred":2945,"match":"no","kind":"sq"},{"target":2520,"pred":3066,"match":"no","kind":"sq"},{"target":2520,"pred":2734,"match":"no","kind":"sq"},{"target":2520,"pred":2583,"match":"no","kind":"sq"},{"target":3117,"pred":2402,"match":"no","kind":"tr"},{"target":3117,"pred":2342,"match":"no","kind":"tr"},{"target":1187,"pred":1859,"match":"no","kind":"sq"},{"target":1187,"pred":1599,"match":"no","kind":"sq"},{"target":1608,"pred":1207,"match":"no","kind":"sq"},{"target":1608,"pred":1147,"match":"no","kind":"sq"},{"target":1491,"pred":1448,"match":"no","kind":"ci"},{"target":1491,"pred":1388,"match":"no","kind":"ci"},{"target":1754,"pred":2233,"match":"no","kind":"tr"},{"target":1754,"pred":2130,"match":"no","kind":"tr"},{"target":2105,"pred":2251,"match":"no","kind":"tr"},{"target":2105,"pred":2160,"match":"no","kind":"tr"},{"target":1988,"pred":2070,"match":"no","kind":"sq"},{"target":1988,"pred":1960,"match":"no","kind":"sq"},{"target":1988,"pred":1850,"match":"no","kind":"sq"},{"target":1988,"pred":1768,"match":"no","kind":"sq"},{"target":1754,"pred":1798,"match":"no","kind":"ci"},{"target":1754,"pred":1557,"match":"no","kind":"ci"},{"target":1363,"pred":1587,"match":"no","kind":"tr"},{"target":1275,"pred":1497,"match":"no","kind":"ci"},{"target":789,"pred":1074,"match":"no","kind":"sq"},{"target":789,"pred":1014,"match":"no","kind":"sq"},{"target":643,"pred":863,"match":"no","kind":"tr"},{"target":702,"pred":893,"match":"no","kind":"tr"},{"target":1667,"pred":1527,"match":"no","kind":"ci"},
{"target":60,"pred":30,"match":"yes","kind":"tr"},{"target":100,"pred":90,"match":"yes","kind":"tr"},{"target":150,"pred":140,"match":"yes","kind":"sq"},{"target":200,"pred":210,"match":"yes","kind":"sq"},{"target":250,"pred":260,"match":"yes","kind":"tr"},{"target":300,"pred":300,"match":"yes","kind":"sq"},{"target":350,"pred":360,"match":"yes","kind":"sq"},{"target":420,"pred":430,"match":"yes","kind":"tr"},{"target":500,"pred":490,"match":"yes","kind":"sq"},{"target":600,"pred":610,"match":"yes","kind":"sq"},{"target":700,"pred":690,"match":"yes","kind":"tr"},{"target":800,"pred":800,"match":"yes","kind":"sq"},{"target":900,"pred":910,"match":"yes","kind":"sq"},{"target":1000,"pred":990,"match":"yes","kind":"tr"},{"target":1300,"pred":1340,"match":"yes","kind":"sq"},{"target":1608,"pred":1810,"match":"yes","kind":"sq"},{"target":1725,"pred":1750,"match":"yes","kind":"sq"},{"target":1990,"pred":2000,"match":"yes","kind":"sq"},{"target":2000,"pred":2150,"match":"yes","kind":"tr"}
]
},
"columns": 2,
"spacing": {"row": 53, "column": 58},
"bounds": "flush",
"resolve": {"legend": {"color": "independent"}},
"concat": [
{
 "width": 196, "height": 194,
 "title": "Lattice const. a",
 "layer": [
  {"data": {"values": [{"target": 0, "pred": 0}, {"target": 17.9, "pred": 17.9}]}, "mark": {"type": "line", "color": "#555555", "strokeWidth": 0.8, "strokeDash": [3, 2]},
   "encoding": {
    "x": {"field": "target", "type": "quantitative", "scale": {"domain": [-0.95, 19.0], "nice": false, "zero": false}, "axis": {"title": "Target a [Å]", "values": [0, 5, 10, 15], "format": "d"}},
    "y": {"field": "pred", "type": "quantitative", "scale": {"domain": [-0.81, 18.95], "nice": false, "zero": false}, "axis": {"title": "Pred. a [Å]", "values": [0, 5, 10, 15], "format": "d"}}
   }},
  {"data": {"name": "a"}, "mark": {"type": "point", "filled": true, "size": 40, "strokeWidth": 0.6},
   "encoding": {
    "x": {"field": "target", "type": "quantitative"},
    "y": {"field": "pred", "type": "quantitative"},
    "color": {"field": "match", "type": "nominal", "scale": {"domain": ["yes", "no"], "range": ["#008000", "#ffa500"]}, "legend": null},
    "stroke": {"condition": {"test": "datum.kind === 'x'", "value": "#3cb043"}, "field": "match", "type": "nominal", "scale": {"domain": ["yes", "no"], "range": ["#000000", "#b87000"]}, "legend": null},
    "opacity": {"field": "match", "type": "nominal", "scale": {"domain": ["yes", "no"], "range": [0.9, 0.66]}, "legend": null},
    "shape": {"field": "kind", "type": "nominal", "scale": {"domain": ["sq", "ci", "tr", "x"], "range": ["square", "circle", "triangle-up", "M-1,-1L1,1M-1,1L1,-1"]}, "legend": null}
   }},
  {"data": {"values": [{"note": "r2"}]}, "mark": {"type": "text", "text": "R", "fontStyle": "italic", "fontSize": 12.5, "align": "right", "baseline": "alphabetic", "fill": "#000000"}, "encoding": {"x": {"datum": 0.73}, "y": {"datum": 16.98}}},
  {"data": {"values": [{"note": "r2"}]}, "mark": {"type": "text", "text": "²: 0.77", "fontSize": 12.5, "align": "left", "baseline": "alphabetic", "fill": "#000000"}, "encoding": {"x": {"datum": 0.73}, "y": {"datum": 16.98}}},
  {"data": {"values": [{"note": "mae"}]}, "mark": {"type": "text", "text": "MAE: 0.84 Å", "fontSize": 12.5, "align": "left", "baseline": "alphabetic", "fill": "#000000"}, "encoding": {"x": {"datum": -0.16}, "y": {"datum": 15.56}}}
 ]
},
{
 "width": 196, "height": 194,
 "title": "Lattice const. b",
 "layer": [
  {"data": {"values": [{"target": 0, "pred": 0}, {"target": 34.3, "pred": 34.3}]}, "mark": {"type": "line", "color": "#555555", "strokeWidth": 0.8, "strokeDash": [3, 2]},
   "encoding": {
    "x": {"field": "target", "type": "quantitative", "scale": {"domain": [-1.8, 35.95], "nice": false, "zero": false}, "axis": {"title": "Target b [Å]", "values": [0, 10, 20, 30], "format": "d"}},
    "y": {"field": "pred", "type": "quantitative", "scale": {"domain": [-1.56, 36.0], "nice": false, "zero": false}, "axis": {"title": "Pred. b [Å]", "values": [0, 10, 20, 30], "format": "d"}}
   }},
  {"data": {"name": "b"}, "mark": {"type": "point", "filled": true, "size": 40, "strokeWidth": 0.6},
   "encoding": {
    "x": {"field": "target", "type": "quantitative"},
    "y": {"field": "pred", "type": "quantitative"},
    "color": {"field": "match", "type": "nominal", "scale": {"domain": ["yes", "no"], "range": ["#008000", "#ffa500"]}, "legend": null},
    "stroke": {"condition": {"test": "datum.kind === 'x'", "value": "#3cb043"}, "field": "match", "type": "nominal", "scale": {"domain": ["yes", "no"], "range": ["#000000", "#b87000"]}, "legend": null},
    "opacity": {"field": "match", "type": "nominal", "scale": {"domain": ["yes", "no"], "range": [0.9, 0.66]}, "legend": null},
    "shape": {"field": "kind", "type": "nominal", "scale": {"domain": ["sq", "ci", "tr", "x"], "range": ["square", "circle", "triangle-up", "M-1,-1L1,1M-1,1L1,-1"]}, "legend": null}
   }},
  {"data": {"values": [{"note": "r2"}]}, "mark": {"type": "text", "text": "R", "fontStyle": "italic", "fontSize": 12.5, "align": "right", "baseline": "alphabetic", "fill": "#000000"}, "encoding": {"x": {"datum": 1.37}, "y": {"datum": 32.5}}},
  {"data": {"values": [{"note": "r2"}]}, "mark": {"type": "text", "text": "²: 0.81", "fontSize": 12.5, "align": "left", "baseline": "alphabetic", "fill": "#000000"}, "encoding": {"x": {"datum": 1.37}, "y": {"datum": 32.5}}},
  {"data": {"values": [{"note": "mae"}]}, "mark": {"type": "text", "text": "MAE: 0.66 Å", "fontSize": 12.5, "align": "left", "baseline": "alphabetic", "fill": "#000000"}, "encoding": {"x": {"datum": -0.31}, "y": {"datum": 29.78}}}
 ]
},
{
 "width": 196, "height": 194,
 "title": "Lattice const. c",
 "layer": [
  {"data": {"values": [{"target": 0, "pred": 0}, {"target": 24.6, "pred": 24.6}]}, "mark": {"type": "line", "color": "#555555", "strokeWidth": 0.8, "strokeDash": [3, 2]},
   "encoding": {
    "x": {"field": "target", "type": "quantitative", "scale": {"domain": [-1.29, 25.74], "nice": false, "zero": false}, "axis": {"title": "Target c [Å]", "values": [0, 10, 20], "format": "d"}},
    "y": {"field": "pred", "type": "quantitative", "scale": {"domain": [-1.42, 29.2], "nice": false, "zero": false}, "axis": {"title": "Pred. c [Å]", "values": [0, 5, 10, 15, 20, 25], "format": "d"}}
   }},
  {"data": {"name": "c"}, "mark": {"type": "point", "filled": true, "size": 40, "strokeWidth": 0.6},
   "encoding": {
    "x": {"field": "target", "type": "quantitative"},
    "y": {"field": "pred", "type": "quantitative"},
    "color": {"field": "match", "type": "nominal", "scale": {"domain": ["yes", "no"], "range": ["#008000", "#ffa500"]},
      "legend": {"title": null, "orient": "bottom-right", "offset": 9, "padding": 0, "labelExpr": "datum.label === 'yes' ? 'Structure Matched' : 'No Structure Match'", "symbolType": "circle", "symbolSize": 76, "symbolOpacity": 1, "symbolStrokeWidth": 0, "labelFontSize": 10, "labelColor": "#000000", "rowPadding": 5, "labelOffset": 15}},
    "stroke": {"condition": {"test": "datum.kind === 'x'", "value": "#3cb043"}, "field": "match", "type": "nominal", "scale": {"domain": ["yes", "no"], "range": ["#000000", "#b87000"]}, "legend": null},
    "opacity": {"field": "match", "type": "nominal", "scale": {"domain": ["yes", "no"], "range": [0.9, 0.66]}, "legend": null},
    "shape": {"field": "kind", "type": "nominal", "scale": {"domain": ["sq", "ci", "tr", "x"], "range": ["square", "circle", "triangle-up", "M-1,-1L1,1M-1,1L1,-1"]}, "legend": null}
   }},
  {"data": {"values": [{"note": "r2"}]}, "mark": {"type": "text", "text": "R", "fontStyle": "italic", "fontSize": 12.5, "align": "right", "baseline": "alphabetic", "fill": "#000000"}, "encoding": {"x": {"datum": 1.06}, "y": {"datum": 26.35}}},
  {"data": {"values": [{"note": "r2"}]}, "mark": {"type": "text", "text": "²: 0.87", "fontSize": 12.5, "align": "left", "baseline": "alphabetic", "fill": "#000000"}, "encoding": {"x": {"datum": 1.06}, "y": {"datum": 26.35}}},
  {"data": {"values": [{"note": "mae"}]}, "mark": {"type": "text", "text": "MAE: 0.92 Å", "fontSize": 12.5, "align": "left", "baseline": "alphabetic", "fill": "#000000"}, "encoding": {"x": {"datum": -0.14}, "y": {"datum": 24.08}}}
 ]
},
{
 "width": 196, "height": 194,
 "title": "Volume",
 "layer": [
  {"data": {"values": [{"target": 0, "pred": 0}, {"target": 3117, "pred": 3117}]}, "mark": {"type": "line", "color": "#555555", "strokeWidth": 0.8, "strokeDash": [3, 2]},
   "encoding": {
    "x": {"field": "target", "type": "quantitative", "scale": {"domain": [-175, 3263], "nice": false, "zero": false}, "axis": {"title": "Target vol. [Å³]", "values": [0, 1000, 2000, 3000], "format": "d"}},
    "y": {"field": "pred", "type": "quantitative", "scale": {"domain": [-157, 3357], "nice": false, "zero": false}, "axis": {"title": "Pred. vol. [Å³]", "values": [0, 1000, 2000, 3000], "format": "d"}}
   }},
  {"data": {"name": "v"}, "mark": {"type": "point", "filled": true, "size": 40, "strokeWidth": 0.6},
   "encoding": {
    "x": {"field": "target", "type": "quantitative"},
    "y": {"field": "pred", "type": "quantitative"},
    "color": {"field": "match", "type": "nominal", "scale": {"domain": ["yes", "no"], "range": ["#008000", "#ffa500"]}, "legend": null},
    "stroke": {"condition": {"test": "datum.kind === 'x'", "value": "#3cb043"}, "field": "match", "type": "nominal", "scale": {"domain": ["yes", "no"], "range": ["#000000", "#b87000"]}, "legend": null},
    "opacity": {"field": "match", "type": "nominal", "scale": {"domain": ["yes", "no"], "range": [0.9, 0.66]}, "legend": null},
    "shape": {"field": "kind", "type": "nominal", "scale": {"domain": ["sq", "ci", "tr", "x"], "range": ["square", "circle", "triangle-up", "M-1,-1L1,1M-1,1L1,-1"]}, "legend": null}
   }},
  {"data": {"values": [{"note": "r2"}]}, "mark": {"type": "text", "text": "R", "fontStyle": "italic", "fontSize": 12.5, "align": "right", "baseline": "alphabetic", "fill": "#000000"}, "encoding": {"x": {"datum": 113}, "y": {"datum": 3025}}},
  {"data": {"values": [{"note": "r2"}]}, "mark": {"type": "text", "text": "²: 0.96", "fontSize": 12.5, "align": "left", "baseline": "alphabetic", "fill": "#000000"}, "encoding": {"x": {"datum": 113}, "y": {"datum": 3025}}},
  {"data": {"values": [{"note": "mae"}]}, "mark": {"type": "text", "text": "MAE: 49.90 Å³", "fontSize": 12.5, "align": "left", "baseline": "alphabetic", "fill": "#000000"}, "encoding": {"x": {"datum": -40}, "y": {"datum": 2762}}}
 ]
}
]
}
